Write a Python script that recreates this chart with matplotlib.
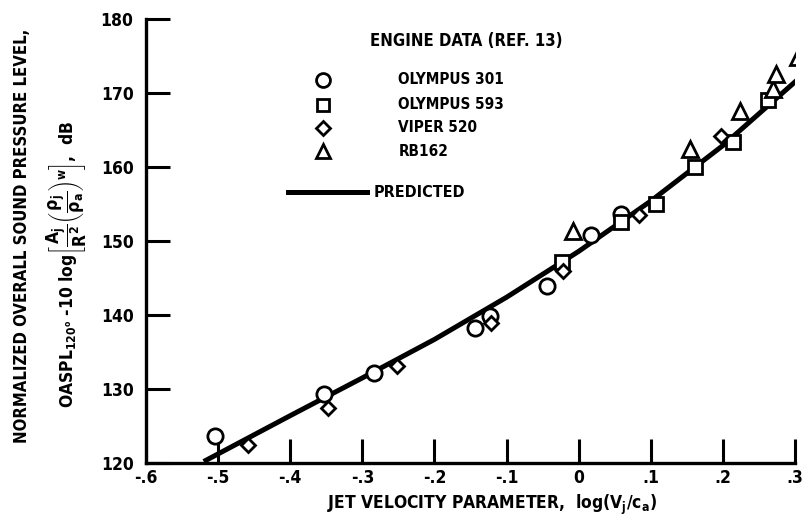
import matplotlib.pyplot as plt
from matplotlib import font_manager

# Engine data (ref. 13): jet velocity parameter log(Vj/ca) vs normalized OASPL, dB
olympus301_x = [-0.504, -0.353, -0.284, -0.144, -0.123, -0.044, 0.017, 0.058]
olympus301_y = [123.6, 129.3, 132.1, 138.3, 139.9, 143.9, 150.8, 153.7]

olympus593_x = [-0.023, 0.058, 0.107, 0.161, 0.214, 0.263]
olympus593_y = [147.1, 152.6, 155.0, 160.0, 163.4, 169.1]

viper520_x = [-0.458, -0.347, -0.252, -0.122, -0.022, 0.083, 0.198]
viper520_y = [122.5, 127.4, 133.1, 138.9, 146.0, 153.5, 164.2]

rb162_x = [-0.008, 0.155, 0.224, 0.269, 0.273, 0.304]
rb162_y = [151.3, 162.4, 167.6, 170.5, 172.6, 174.8]

# predicted curve
pred_x = [-0.52, -0.4, -0.3, -0.2, -0.1, 0.0, 0.1, 0.2, 0.307]
pred_y = [120.2, 126.4, 131.5, 136.7, 142.4, 148.6, 155.4, 162.9, 172.1]

xticks = [-0.6, -0.5, -0.4, -0.3, -0.2, -0.1, 0.0, 0.1, 0.2, 0.3]
xticklabels = ['-.6', '-.5', '-.4', '-.3', '-.2', '-.1', '0', '.1', '.2', '.3']
yticks = [120, 130, 140, 150, 160, 170, 180]

# prefer a condensed bold face if one is installed
cond = [f for f in font_manager.fontManager.ttflist
        if f.stretch in ('condensed', 'semi-condensed', 'extra-condensed')
        or 'Narrow' in f.name or 'Condensed' in f.name]
fam = cond[0].name if cond else 'Liberation Sans'
plt.rcParams['font.family'] = [fam, 'DejaVu Sans']
plt.rcParams['font.stretch'] = 'condensed'
plt.rcParams['font.weight'] = 'bold'
plt.rcParams['axes.labelweight'] = 'bold'
plt.rcParams['mathtext.fontset'] = 'custom'
plt.rcParams['mathtext.rm'] = fam + ':bold'
plt.rcParams['mathtext.it'] = fam + ':bold'
plt.rcParams['mathtext.bf'] = fam + ':bold'

fig = plt.figure(figsize=(8.09, 5.23), dpi=100)
ax = fig.add_axes([0.1805, 0.1147, 0.8022, 0.849])

ax.plot(pred_x, pred_y, color='black', lw=3.6, solid_capstyle='butt', zorder=2)

mk = dict(linestyle='none', mfc='white', mec='black', mew=2.0, zorder=3)
ax.plot(olympus301_x, olympus301_y, marker='o', ms=11, **mk)
ax.plot(olympus593_x, olympus593_y, marker='s', ms=10, **mk)
ax.plot(viper520_x, viper520_y, marker='D', ms=7.5, **mk)
ax.plot(rb162_x, rb162_y, marker='^', ms=11, **mk)

ax.set_xlim(-0.6, 0.3)
ax.set_ylim(120, 180)
ax.set_xticks(xticks)
ax.set_xticklabels(xticklabels)
ax.set_yticks(yticks)
ax.tick_params(direction='in', length=17, width=2.2, labelsize=12.5, pad=4)
ax.tick_params(axis='y', pad=9)
for s in ['top', 'right']:
    ax.spines[s].set_visible(False)
for s in ['left', 'bottom']:
    ax.spines[s].set_linewidth(2.4)

# axis titles
fig.text(0.608, 0.035, r'JET VELOCITY PARAMETER,  log(V$_j$/c$_a$)',
         ha='center', va='center', fontsize=12.5)
fig.text(0.027, 0.549, 'NORMALIZED OVERALL SOUND PRESSURE LEVEL,', rotation=90,
         ha='center', va='center', fontsize=12)
fig.text(0.082, 0.495,
         r'OASPL$_{120^o}$ -10 log$\left[\dfrac{A_j}{R^2}\left(\dfrac{\rho_j}{\rho_a}\right)^w\right]$,  dB',
         rotation=90, ha='center', va='center', fontsize=12.5)

# key drawn in data space
ax.text(-0.289, 177.0, 'ENGINE DATA (REF. 13)', fontsize=12, ha='left', va='center')
key_x = -0.354
txt_x = -0.25
key_rows = [(171.8, 'o', 10, 'OLYMPUS 301'),
            (168.4, 's', 9, 'OLYMPUS 593'),
            (165.3, 'D', 7, 'VIPER 520'),
            (162.1, '^', 10, 'RB162')]
for yy, m, ms, lab in key_rows:
    ax.plot([key_x], [yy], marker=m, ms=ms, **mk)
    ax.text(txt_x, yy, lab, fontsize=11, ha='left', va='center')
ax.plot([-0.403, -0.293], [156.6, 156.6], color='black', lw=3.6)
ax.text(-0.285, 156.6, 'PREDICTED', fontsize=11.5, ha='left', va='center')

fig.savefig('out.png', dpi=100)
